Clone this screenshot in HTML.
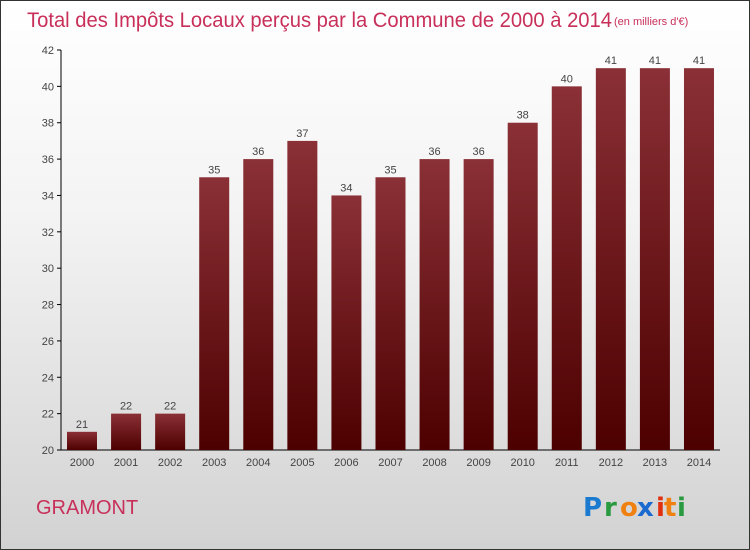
<!DOCTYPE html>
<html><head><meta charset="utf-8"><style>
body{margin:0}
#c{width:750px;height:550px;position:relative;box-sizing:border-box;border:1px solid #333;background:linear-gradient(#fff 0%,#f3f3f3 40%,#d2d2d2 100%);font-family:"Liberation Sans",sans-serif;overflow:hidden}
</style></head><body>
<div id="c">
<svg width="750" height="550" style="position:absolute;left:-1px;top:-1px">
<defs><linearGradient id="bg" x1="0" y1="0" x2="0" y2="1"><stop offset="0" stop-color="#8a3036"/><stop offset="1" stop-color="#4d0000"/></linearGradient></defs>
<text x="27" y="27" font-size="21" fill="#c8305a" font-family="Liberation Sans, sans-serif" textLength="585" lengthAdjust="spacingAndGlyphs">Total des Impôts Locaux perçus par la Commune de 2000 à 2014</text>
<text x="614" y="25" font-size="11" fill="#c8305a">(en milliers d'€)</text>
<g id="plot"></g>
<text x="36" y="514" font-size="20" fill="#c8305a">GRAMONT</text>
<g font-size="26" font-weight="bold" font-family="DejaVu Sans, sans-serif">
<text x="583" y="516" fill="#1a7ad0">P</text><text x="604" y="516" fill="#2a9a40">r</text><text x="620" y="516" fill="#f08010">o</text><text x="637" y="516" fill="#1a6ad0">x</text><text x="656" y="516" fill="#e03010">i</text><text x="664" y="516" fill="#f08010">t</text><text x="677" y="516" fill="#2a9a40">i</text>
</g>
</svg>
</div>
<script>
const years=["2000","2001","2002","2003","2004","2005","2006","2007","2008","2009","2010","2011","2012","2013","2014"];
const values=[21,22,22,35,36,37,34,35,36,36,38,40,41,41,41];
const yTicks=[20,22,24,26,28,30,32,34,36,38,40,42];
const NS="http://www.w3.org/2000/svg";
const g=document.getElementById('plot');
const y0=450,y1=50,vmin=20,vmax=42;
const ys=v=>y0-(v-vmin)/(vmax-vmin)*(y0-y1);
const xs=i=>82+i*44.07;
function mk(t,a){const e=document.createElementNS(NS,t);for(const k in a)e.setAttribute(k,a[k]);g.appendChild(e);return e;}
let ax=mk('line',{x1:61,y1:50,x2:61,y2:450,stroke:'#000'});


let bx=mk('line',{x1:61,y1:450,x2:720,y2:450,stroke:'#000'});


yTicks.forEach(t=>{
 const y=ys(t);
 mk('line',{x1:57,y1:y,x2:61,y2:y,stroke:'#000'});
 const tx=mk('text',{x:54,y:y+4,'font-size':11,fill:'#444','text-anchor':'end'});tx.textContent=t;
 
 
});
values.forEach((v,i)=>{
 const x=xs(i),y=ys(v);
 const r=mk('rect',{x:x-15,y:y,width:30,height:y0-y,fill:'url(#bg)'});
 
 
 const l=mk('text',{x:x,y:y-4,'font-size':11,fill:'#444','text-anchor':'middle'});l.textContent=v;
 
 
 const xl=mk('text',{x:x,y:466,'font-size':11,fill:'#444','text-anchor':'middle'});xl.textContent=years[i];
 
 
});
</script>
</body></html>
